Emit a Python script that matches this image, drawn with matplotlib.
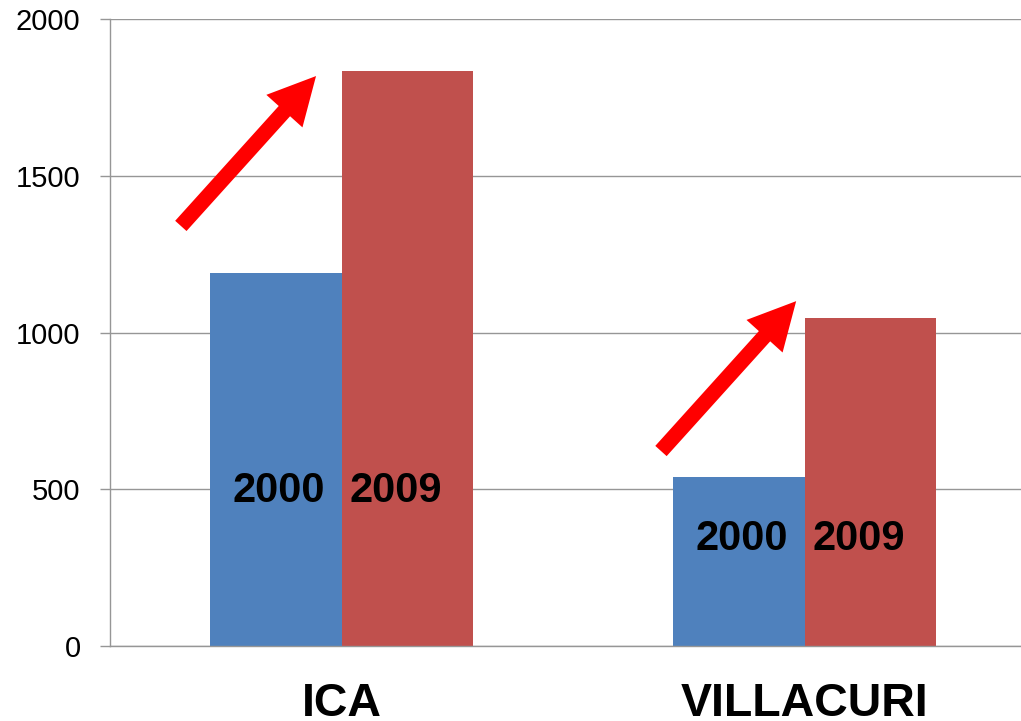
import matplotlib
matplotlib.use("Agg")
import matplotlib.pyplot as plt
import numpy as np

categories = ["ICA", "VILLACURI"]
years = ["2000", "2009"]
values_2000 = [1189, 538]
values_2009 = [1834, 1046]
label_y = [496, 342]
# arrow annotations (data coords): tail and tip
arrow_tail = [(-0.347, 1340), (0.690, 622)]
arrow_tip = [(-0.055, 1818), (0.982, 1100)]

W, H = 1021, 721
fig = plt.figure(figsize=(W / 100, H / 100), dpi=100)
ax = fig.add_axes([110 / W, (H - 646) / H, (1036 - 110) / W, 627 / H])

x = np.arange(len(categories))
bw = 0.285
blue = "#4F81BD"
red = "#C0504D"
ax.bar(x - bw / 2, values_2000, bw, color=blue, zorder=2)
ax.bar(x + bw / 2, values_2009, bw, color=red, zorder=2)

for i in range(len(categories)):
    ax.text(x[i] - bw / 2 + 0.006, label_y[i], years[0], ha="center", va="center",
            fontsize=30, fontweight="bold", family="Liberation Sans", color="black", zorder=3)
    ax.text(x[i] + bw / 2 - 0.026, label_y[i], years[1], ha="center", va="center",
            fontsize=30, fontweight="bold", family="Liberation Sans", color="black", zorder=3)
    ax.annotate("", xy=arrow_tip[i], xytext=arrow_tail[i],
                arrowprops=dict(arrowstyle="simple,head_length=34,head_width=35,tail_width=11",
                                mutation_scale=1, color="#FF0000", shrinkA=0, shrinkB=0, lw=0),
                zorder=4)

ax.set_xlim(-0.5, 1.5)
ax.set_ylim(0, 2000)
ax.set_yticks([0, 500, 1000, 1500, 2000])
ax.set_xticks(x)
ax.set_xticklabels(categories, fontsize=33.5, fontweight="bold", family="Liberation Sans")
ax.tick_params(axis="x", length=0, pad=26)
ax.tick_params(axis="y", length=7.2, width=1.0, color="#969696", pad=14,
               labelsize=21)
for lbl in ax.get_yticklabels():
    lbl.set_family("Liberation Sans")

ax.yaxis.grid(True, color="#969696", linewidth=1.0, zorder=0)
ax.set_axisbelow(True)
for s in ["top", "right"]:
    ax.spines[s].set_visible(False)
ax.spines["left"].set_color("#969696")
ax.spines["bottom"].set_color("#969696")
ax.spines["left"].set_linewidth(1.0)
ax.spines["bottom"].set_linewidth(1.0)

fig.savefig("out.png", dpi=100)
